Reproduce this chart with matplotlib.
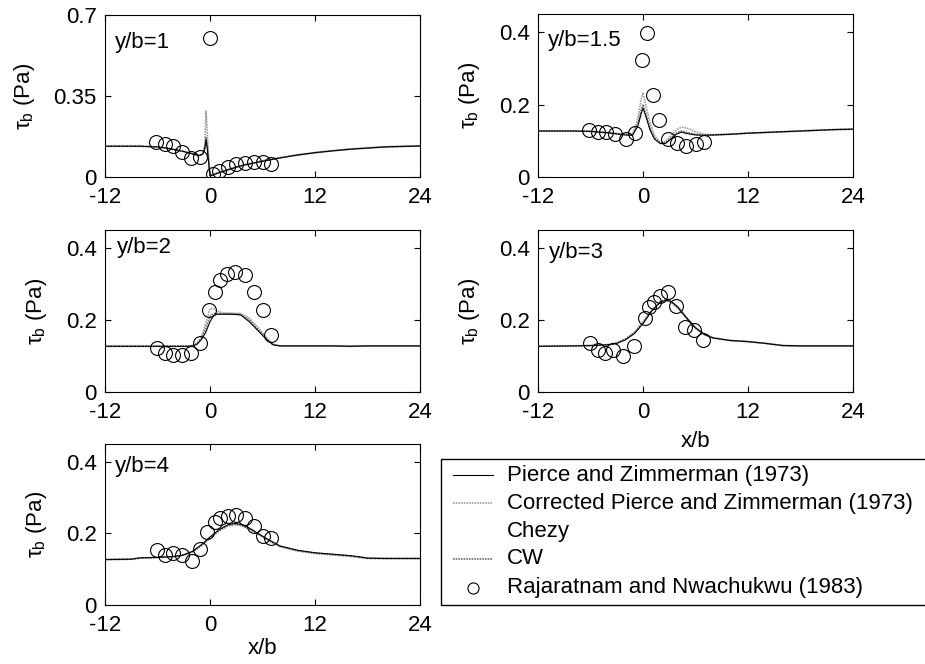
import matplotlib
matplotlib.use("Agg")
import matplotlib.pyplot as plt
from matplotlib.lines import Line2D
from matplotlib.patches import Rectangle

plt.rcParams['font.family'] = ['Liberation Sans', 'DejaVu Sans']
plt.rcParams['mathtext.fontset'] = 'custom'
plt.rcParams['mathtext.rm'] = 'Liberation Sans'
plt.rcParams['mathtext.it'] = 'Liberation Sans'

# ---------------- data ----------------
panel_labels = ["y/b=1", "y/b=1.5", "y/b=2", "y/b=3", "y/b=4"]
x_ticks = [-12, 0, 12, 24]
y_ticks_1 = [0, 0.35, 0.7]
y_ticks_other = [0, 0.2, 0.4]
legend_labels = ["Pierce and Zimmerman (1973)",
                 "Corrected Pierce and Zimmerman (1973)",
                 "Chezy", "CW", "Rajaratnam and Nwachukwu (1983)"]

# y/b = 1
x_line_1 = [-12, -8, -6, -5, -4, -3, -2, -1.2, -0.8, -0.6, -0.45, -0.3, -0.15, 0, 0.3,
            1, 2, 3, 4, 5, 6, 7, 8, 10, 12, 14, 16, 18, 20, 22, 24]
pz_1 = [0.133, 0.133, 0.13, 0.125, 0.118, 0.11, 0.1, 0.092, 0.1, 0.12, 0.16, 0.12, 0.06, 0.005, 0.008,
        0.018, 0.03, 0.042, 0.052, 0.06, 0.068, 0.075, 0.082, 0.095, 0.105, 0.113, 0.12, 0.125, 0.13, 0.132, 0.134]
cpz_1 = [0.133, 0.133, 0.13, 0.125, 0.118, 0.11, 0.1, 0.094, 0.105, 0.14, 0.285, 0.18, 0.08, 0.01, 0.01,
         0.02, 0.032, 0.044, 0.054, 0.062, 0.07, 0.077, 0.084, 0.096, 0.106, 0.114, 0.121, 0.126, 0.131, 0.133, 0.134]
chezy_1 = [0.133, 0.133, 0.13, 0.125, 0.118, 0.11, 0.1, 0.093, 0.102, 0.125, 0.165, 0.125, 0.065, 0.006, 0.009,
           0.019, 0.031, 0.043, 0.053, 0.061, 0.069, 0.076, 0.083, 0.095, 0.105, 0.113, 0.12, 0.125, 0.13, 0.132, 0.134]
cw_1 = [0.133, 0.133, 0.13, 0.125, 0.118, 0.11, 0.1, 0.093, 0.102, 0.13, 0.17, 0.13, 0.07, 0.006, 0.009,
        0.019, 0.031, 0.043, 0.053, 0.061, 0.069, 0.076, 0.083, 0.095, 0.105, 0.113, 0.12, 0.125, 0.13, 0.132, 0.134]
x_obs_1 = [-6.2, -5.2, -4.2, -3.2, -2.2, -1.1, 0.0, 0.3, 1.0, 2.0, 3.0, 4.0, 5.0, 6.0, 7.0]
obs_1 = [0.152, 0.144, 0.132, 0.107, 0.082, 0.086, 0.6, 0.015, 0.028, 0.045, 0.055, 0.062, 0.064, 0.063, 0.055]

# y/b = 1.5
x_line_2 = [-12, -8, -6, -4, -2, -1.2, -0.6, -0.2, 0, 0.3, 0.8, 1.3, 2, 2.6, 3.2, 3.8, 4.4, 5, 6, 7,
            8, 10, 12, 14, 16, 18, 20, 22, 24]
pz_2 = [0.127, 0.127, 0.126, 0.122, 0.116, 0.115, 0.14, 0.175, 0.19, 0.17, 0.13, 0.105, 0.092, 0.093,
        0.105, 0.118, 0.124, 0.12, 0.116, 0.115, 0.116, 0.118, 0.121, 0.123, 0.125, 0.127, 0.129, 0.131, 0.132]
cpz_2 = [0.127, 0.127, 0.126, 0.123, 0.118, 0.118, 0.16, 0.215, 0.233, 0.2, 0.15, 0.115, 0.095, 0.098,
         0.115, 0.13, 0.138, 0.135, 0.125, 0.118, 0.117, 0.118, 0.121, 0.123, 0.125, 0.127, 0.129, 0.131, 0.132]
chezy_2 = [0.127, 0.127, 0.126, 0.122, 0.116, 0.115, 0.142, 0.18, 0.195, 0.172, 0.132, 0.106, 0.092, 0.094,
           0.106, 0.119, 0.125, 0.121, 0.116, 0.115, 0.116, 0.118, 0.121, 0.123, 0.125, 0.127, 0.129, 0.131, 0.132]
cw_2 = [0.127, 0.127, 0.126, 0.122, 0.117, 0.116, 0.145, 0.185, 0.2, 0.175, 0.135, 0.108, 0.093, 0.095,
        0.108, 0.121, 0.127, 0.123, 0.118, 0.116, 0.116, 0.118, 0.121, 0.123, 0.125, 0.127, 0.129, 0.131, 0.132]
x_obs_2 = [-6.2, -5.2, -4.2, -3.2, -2.0, -0.9, -0.1, 0.5, 1.1, 1.8, 2.9, 3.9, 4.9, 6.0, 7.0]
obs_2 = [0.13, 0.125, 0.124, 0.12, 0.105, 0.121, 0.324, 0.397, 0.227, 0.156, 0.105, 0.094, 0.086, 0.092, 0.096]

# y/b = 2
x_line_3 = [-12, -8, -4, -2.5, -2, -1.5, -1, -0.5, 0, 0.4, 0.8, 1.5, 2.5, 3.5, 4.5, 5.5, 6.5, 7.2,
            8, 10, 12, 14, 16, 18, 20, 22, 24]
pz_3 = [0.127, 0.127, 0.127, 0.127, 0.128, 0.132, 0.145, 0.165, 0.195, 0.212, 0.216, 0.216, 0.216, 0.214,
        0.195, 0.17, 0.145, 0.131, 0.128, 0.128, 0.128, 0.128, 0.127, 0.128, 0.128, 0.128, 0.128]
cpz_3 = [0.127, 0.127, 0.127, 0.127, 0.129, 0.136, 0.152, 0.19, 0.232, 0.232, 0.225, 0.22, 0.219, 0.218,
         0.205, 0.178, 0.15, 0.133, 0.128, 0.128, 0.128, 0.128, 0.127, 0.128, 0.128, 0.128, 0.128]
chezy_3 = [0.127, 0.127, 0.127, 0.127, 0.128, 0.133, 0.147, 0.17, 0.2, 0.214, 0.217, 0.217, 0.217, 0.215,
           0.197, 0.172, 0.146, 0.131, 0.128, 0.128, 0.128, 0.128, 0.127, 0.128, 0.128, 0.128, 0.128]
cw_3 = [0.127, 0.127, 0.127, 0.127, 0.128, 0.134, 0.148, 0.175, 0.21, 0.218, 0.218, 0.217, 0.217, 0.216,
        0.2, 0.174, 0.147, 0.132, 0.128, 0.128, 0.128, 0.128, 0.127, 0.128, 0.128, 0.128, 0.128]
x_obs_3 = [-6.1, -5.1, -4.2, -3.2, -2.2, -1.1, -0.1, 0.6, 1.1, 1.9, 2.9, 4.0, 5.0, 6.1, 7.0]
obs_3 = [0.121, 0.107, 0.102, 0.102, 0.109, 0.135, 0.228, 0.279, 0.312, 0.327, 0.332, 0.326, 0.279, 0.228, 0.158]

# y/b = 3
x_line_4 = [-12, -8, -6, -4, -3, -2, -1, 0, 1, 2, 2.6, 3.2, 4, 5, 6, 7, 8, 10, 12, 14, 15, 16, 18, 20, 24]
pz_4 = [0.127, 0.128, 0.129, 0.131, 0.135, 0.145, 0.162, 0.19, 0.225, 0.25, 0.255, 0.252, 0.235, 0.205,
        0.178, 0.16, 0.15, 0.143, 0.14, 0.135, 0.132, 0.129, 0.128, 0.128, 0.128]
cpz_4 = [0.127, 0.128, 0.129, 0.132, 0.137, 0.148, 0.166, 0.195, 0.228, 0.252, 0.257, 0.253, 0.237, 0.207,
         0.18, 0.162, 0.151, 0.143, 0.14, 0.135, 0.132, 0.129, 0.128, 0.128, 0.128]
chezy_4 = [0.127, 0.128, 0.129, 0.131, 0.135, 0.145, 0.163, 0.191, 0.226, 0.251, 0.256, 0.252, 0.235, 0.205,
           0.178, 0.16, 0.15, 0.143, 0.14, 0.135, 0.132, 0.129, 0.128, 0.128, 0.128]
cw_4 = [0.127, 0.128, 0.129, 0.131, 0.136, 0.146, 0.164, 0.192, 0.226, 0.25, 0.254, 0.25, 0.233, 0.204,
        0.177, 0.16, 0.15, 0.143, 0.14, 0.135, 0.132, 0.129, 0.128, 0.128, 0.128]
x_obs_4 = [-6.1, -5.2, -4.3, -3.4, -2.25, -1.0, 0.2, 0.7, 1.3, 1.9, 2.8, 3.8, 4.8, 5.8, 6.8]
obs_4 = [0.135, 0.116, 0.109, 0.116, 0.101, 0.128, 0.205, 0.235, 0.25, 0.268, 0.278, 0.24, 0.18, 0.172, 0.145]

# y/b = 4
x_line_5 = [-12, -9, -8, -6, -4, -3, -2, -1, 0, 1, 2, 2.8, 3.5, 4.5, 5.5, 6.5, 8, 10, 12, 14, 16, 17, 18, 20, 24]
pz_5 = [0.127, 0.128, 0.132, 0.133, 0.136, 0.14, 0.15, 0.168, 0.19, 0.21, 0.224, 0.228, 0.226, 0.215,
        0.2, 0.185, 0.165, 0.153, 0.146, 0.142, 0.138, 0.135, 0.131, 0.13, 0.13]
cpz_5 = [0.127, 0.128, 0.131, 0.132, 0.135, 0.139, 0.148, 0.165, 0.186, 0.206, 0.22, 0.224, 0.222, 0.212,
         0.198, 0.183, 0.163, 0.151, 0.144, 0.14, 0.136, 0.133, 0.13, 0.13, 0.13]
chezy_5 = [0.127, 0.128, 0.132, 0.133, 0.136, 0.14, 0.15, 0.168, 0.19, 0.21, 0.224, 0.228, 0.226, 0.215,
           0.2, 0.185, 0.165, 0.153, 0.146, 0.142, 0.138, 0.135, 0.131, 0.13, 0.13]
cw_5 = [0.127, 0.128, 0.131, 0.133, 0.135, 0.14, 0.149, 0.167, 0.188, 0.208, 0.222, 0.226, 0.224, 0.213,
        0.199, 0.184, 0.164, 0.152, 0.145, 0.141, 0.137, 0.134, 0.131, 0.13, 0.13]
x_obs_5 = [-6.1, -5.1, -4.2, -3.2, -2.1, -1.2, -0.3, 0.6, 1.1, 2.0, 3.0, 4.0, 5.0, 6.0, 7.0]
obs_5 = [0.153, 0.141, 0.144, 0.141, 0.122, 0.157, 0.205, 0.232, 0.244, 0.25, 0.251, 0.244, 0.22, 0.192, 0.188]

panels = [
    (x_line_1, pz_1, cpz_1, chezy_1, cw_1, x_obs_1, obs_1),
    (x_line_2, pz_2, cpz_2, chezy_2, cw_2, x_obs_2, obs_2),
    (x_line_3, pz_3, cpz_3, chezy_3, cw_3, x_obs_3, obs_3),
    (x_line_4, pz_4, cpz_4, chezy_4, cw_4, x_obs_4, obs_4),
    (x_line_5, pz_5, cpz_5, chezy_5, cw_5, x_obs_5, obs_5),
]

# ---------------- layout ----------------
W, H = 925, 664
fig = plt.figure(figsize=(W / 100, H / 100), dpi=100)

def ax_rect(l, t, r, b):
    return [l / W, 1 - b / H, (r - l) / W, (b - t) / H]

rects = [ax_rect(105, 15, 420, 177), ax_rect(538, 14, 853, 177),
         ax_rect(105, 230, 420, 392), ax_rect(538, 230, 853, 392),
         ax_rect(105, 444, 420, 605)]
label_pos = [(0.032, 0.83), (0.03, 0.84), (0.038, 0.89), (0.035, 0.86), (0.032, 0.86)]
xlabel_pad = {3: 6, 4: 2}

FS = 16
c_pz = 'black'
c_cpz = '#a0a0a0'
c_cw = '#6e6e6e'
dot = (0, (1, 0.6))

for i, (rect, data) in enumerate(zip(rects, panels)):
    xl, pz, cpz, chz, cw, xo, yo = data
    ax = fig.add_axes(rect)
    ax.plot(xl, chz, color='white', lw=0.8, zorder=1)
    ax.plot(xl, cpz, color=c_cpz, lw=1.2, ls=dot, zorder=2)
    ax.plot(xl, cw, color=c_cw, lw=1.2, ls=dot, zorder=3)
    ax.plot(xl, pz, color=c_pz, lw=0.8, zorder=4)
    ax.plot(xo, yo, ls='none', marker='o', ms=10, mfc='none', mec='black', mew=0.8, zorder=5)
    ax.set_xlim(-12, 24)
    if i == 0:
        ax.set_ylim(0, 0.7)
        ax.set_yticks(y_ticks_1)
        ax.set_yticklabels(['0', '0.35', '0.7'])
    else:
        ax.set_ylim(0, 0.45)
        ax.set_yticks(y_ticks_other)
        ax.set_yticklabels(['0', '0.2', '0.4'])
    ax.set_xticks(x_ticks)
    ax.set_xticklabels([str(v) for v in x_ticks])
    ax.tick_params(direction='in', top=True, right=True, length=4, width=0.8,
                   labelsize=FS)
    ax.tick_params(axis='x', pad=7)
    ax.tick_params(axis='y', pad=6)
    for s in ax.spines.values():
        s.set_linewidth(0.8)
    ax.set_ylabel(r'$\mathrm{\tau}_{\mathrm{b}}$ (Pa)', fontsize=FS, labelpad=12)
    ax.text(label_pos[i][0], label_pos[i][1], panel_labels[i], transform=ax.transAxes,
            fontsize=FS, ha='left', va='center')
    if i in xlabel_pad:
        ax.set_xlabel('x/b', fontsize=FS, labelpad=xlabel_pad[i])

# ---------------- legend (drawn as a boxed key in figure pixels) ----------------
def fx(px):
    return px / W

def fy(py):
    return 1 - py / H

fig.add_artist(Rectangle((fx(441), fy(605)), fx(935) - fx(441), fy(459) - fy(605),
                         transform=fig.transFigure, fill=False, edgecolor='black', lw=1.0))
key_styles = [dict(color=c_pz, lw=0.8),
              dict(color=c_cpz, lw=1.2, ls=dot),
              dict(color='white', lw=0.8),
              dict(color=c_cw, lw=1.2, ls=dot),
              None]
row_y = [475, 503, 531, 559, 588]
for label, style, ry in zip(legend_labels, key_styles, row_y):
    if style is not None:
        fig.add_artist(Line2D([fx(453), fx(493)], [fy(ry), fy(ry)], transform=fig.transFigure, **style))
    else:
        fig.add_artist(Line2D([fx(473)], [fy(ry)], transform=fig.transFigure, ls='none', marker='o',
                              ms=8, mfc='none', mec='black', mew=0.8))
    fig.text(fx(507), fy(ry), label, fontsize=FS, ha='left', va='center')

fig.savefig('out.png', dpi=100)
